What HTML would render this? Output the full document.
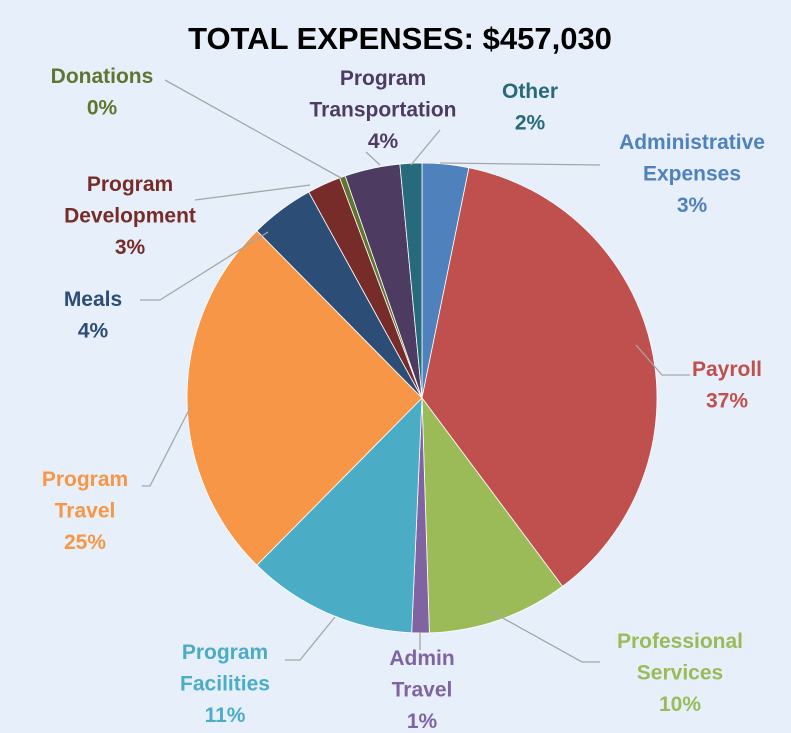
<!DOCTYPE html>
<html><head><meta charset="utf-8">
<style>
html,body{margin:0;padding:0;background:#e7f0fa;}
svg{display:block;}
text{font-family:"Liberation Sans","DejaVu Sans",sans-serif;font-weight:bold;}
</style></head>
<body>
<svg id="chart" width="791" height="733" viewBox="0 0 791 733">
<rect width="791" height="733" fill="#e7f0fa"/>
<text x="400" y="49" font-size="31" text-anchor="middle" fill="#000">TOTAL EXPENSES: $457,030</text>
<g id="slices"></g>
<g id="leaders" stroke="#a6a6a6" stroke-width="1.3" fill="none"></g>
<g id="labels" font-size="21" text-anchor="middle"></g>
</svg>
<script>
const categories = ["Administrative Expenses","Payroll","Professional Services","Admin Travel","Program Facilities","Program Travel","Meals","Program Development","Donations","Program Transportation","Other"];
const values = [3.2,36.6,9.7,1.2,11.7,25.2,4.4,2.3,0.4,3.8,1.5];
const pctLabels = ["3%","37%","10%","1%","11%","25%","4%","3%","0%","4%","2%"];
const colors = ["#4f81bd","#c0504d","#9bbb59","#8064a2","#4bacc6","#f79646","#2c4d75","#772c2a","#5f7530","#4d3b62","#276a7c"];
const labelColors = ["#4f81bd","#c0504d","#9bbb59","#8064a2","#4bacc6","#f79646","#2c4d75","#772c2a","#5f7530","#4d3b62","#276a7c"];
const labelLayout = [
 [692,149,["Administrative","Expenses"]],
 [727,376,["Payroll"]],
 [680,648,["Professional","Services"]],
 [422,665,["Admin","Travel"]],
 [225,659,["Program","Facilities"]],
 [85,486,["Program","Travel"]],
 [93,306,["Meals"]],
 [130,191,["Program","Development"]],
 [102,83,["Donations"]],
 [383,85,["Program","Transportation"]],
 [530,98,["Other"]]
];
const leaderPts = [
 "600,165 440,163","690,375 662,375 636,345","600,662 582,662 492,612","420,650 420,632",
 "285,660 300,660 335,617","142,486 150,486 190,408","140,300 160,300 268,232",
 "195,200 310,185","165,80 341,178","366,152 380,165","440,130 411,165"
];
const cx=422, cy=398, R=235;
const NS="http://www.w3.org/2000/svg";
const total = values.reduce((a,b)=>a+b,0);
function pt(frac,r){const a=frac*2*Math.PI;return [cx+r*Math.sin(a), cy-r*Math.cos(a)];}
const gS=document.getElementById('slices'), gL=document.getElementById('leaders'), gT=document.getElementById('labels');
let cum=0;
values.forEach((v,i)=>{
  const s=cum/total, e=(cum+v)/total; cum+=v;
  const p0=pt(s,R), p1=pt(e,R), large=(e-s)>0.5?1:0;
  const path=document.createElementNS(NS,'path');
  path.setAttribute('d',`M${cx},${cy} L${p0[0]},${p0[1]} A${R},${R} 0 ${large} 1 ${p1[0]},${p1[1]} Z`);
  path.setAttribute('fill',colors[i]);
  path.setAttribute('stroke','#fff');
  path.setAttribute('stroke-width','0.8');
  
  
  gS.appendChild(path);
  const pl=document.createElementNS(NS,'polyline');
  pl.setAttribute('points',leaderPts[i]);
  
  
  gL.appendChild(pl);
  const L=labelLayout[i];
  const t=document.createElementNS(NS,'text');
  t.setAttribute('fill',labelColors[i]);
  
  
  const lines=L[2].concat([pctLabels[i]]);
  lines.forEach((ln,k)=>{
    const ts=document.createElementNS(NS,'tspan');
    ts.setAttribute('x',L[0]); ts.setAttribute('y',L[1]+k*31.5);
    ts.textContent=ln; t.appendChild(ts);
  });
  gT.appendChild(t);
});
</script>
</body></html>
